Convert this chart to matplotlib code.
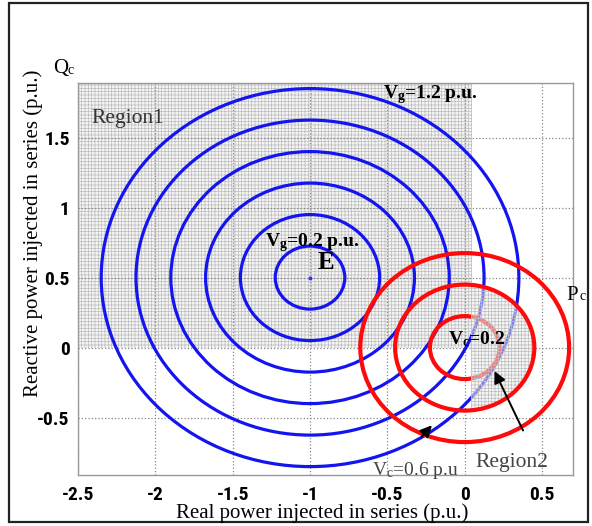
import matplotlib
matplotlib.use("Agg")
import matplotlib.pyplot as plt
from matplotlib import font_manager
from matplotlib.patches import Circle, Rectangle, FancyArrowPatch

plt.rcParams["hatch.linewidth"] = 0.5
plt.rcParams["mathtext.fontset"] = "custom"
plt.rcParams["mathtext.rm"] = "Liberation Serif"
plt.rcParams["mathtext.bf"] = "Liberation Serif:bold"
plt.rcParams["mathtext.it"] = "Liberation Serif:italic"

# Operating circles: grid-side voltage (blue) around point E, converter voltage (red) around origin
grid_center = (-1.0, 0.5)
grid_radii = [0.225, 0.45, 0.675, 0.9, 1.125, 1.35]
conv_center = (0.0, 0.0)
conv_radii = [0.225, 0.45, 0.675]

x_ticks = [-2.5, -2, -1.5, -1, -0.5, 0, 0.5]
x_tick_labels = ["-2.5", "-2", "-1.5", "-1", "-0.5", "0", "0.5"]
y_ticks = [-0.5, 0, 0.5, 1, 1.5]
y_tick_labels = ["-0.5", "0", "0.5", "1", "1.5"]

W, H = 592, 526
fig = plt.figure(figsize=(W / 100, H / 100), dpi=100)


def fx(px):
    return px / W


def fy(py):
    return 1 - py / H


ax = fig.add_axes([fx(78), fy(475), fx(573) - fx(78), fy(83) - fy(475)])
ax.set_xlim(-2.5, 0.7)
ax.set_ylim(-0.91, 1.89)

serif = "Liberation Serif"
installed = {f.name for f in font_manager.fontManager.ttflist}
narrow = [n for n in ["Liberation Sans Narrow", "Roboto Condensed", "DejaVu Sans"]
          if n in installed]
tick_font = dict(family=narrow, weight="bold", stretch="condensed", size=14)

ax.set_xticks(x_ticks)
ax.set_xticklabels(x_tick_labels, **tick_font)
ax.set_yticks(y_ticks)
ax.set_yticklabels(y_tick_labels, **tick_font)
ax.tick_params(axis="both", length=0)
ax.tick_params(axis="x", pad=8)
ax.tick_params(axis="y", pad=6)
for sp in ax.spines.values():
    sp.set_color("#999999")
    sp.set_linewidth(1.0)
ax.grid(True, linestyle=":", color="#888888", linewidth=0.9, zorder=1)
ax.set_axisbelow(True)

# Region 1: upper-left half plane
region1 = Rectangle((-2.5, 0.0), 0.05 + 2.5, 1.89, facecolor="#f4f4f4",
                    edgecolor="#bdbdbd", hatch="+++++", linewidth=0, zorder=0.5)
ax.add_patch(region1)

for r in grid_radii:
    ax.add_patch(Circle(grid_center, r, fill=False, edgecolor="#1414f0",
                        linewidth=2.3, zorder=2))
ax.plot([grid_center[0]], [grid_center[1]], marker="o", markersize=1.8,
        color="#3030ff", zorder=2)

red_z = [3, 5, 3]
for r, z in zip(conv_radii, red_z):
    ax.add_patch(Circle(conv_center, r, fill=False, edgecolor="#ff0a0a",
                        linewidth=3.0, zorder=z))

# Region 2: right part of the middle converter circle
region2 = Circle(conv_center, conv_radii[1], facecolor=(0.93, 0.93, 0.93, 0.5),
                 edgecolor="#bcbcbc", hatch="+++++", linewidth=0, zorder=4)
ax.add_patch(region2)
clip = Rectangle((0.04, -1.0), 1.0, 2.0, transform=ax.transData)
region2.set_clip_path(clip)

# Labels inside the plot
ax.text(-2.41, 1.636, "Region1", family=serif, size=15.5, color="#333333",
        va="center", ha="left", zorder=6)
ax.text(-0.53, 1.81, r"V$_\mathbf{g}$=1.2 p.u.", family=serif, size=14,
        weight="bold", va="center", ha="left", zorder=6)
ax.text(-1.29, 0.75, r"V$_\mathbf{g}$=0.2 p.u.", family=serif, size=14,
        weight="bold", va="center", ha="left", zorder=6)
ax.text(-0.95, 0.61, "E", family=serif, size=18, weight="bold",
        va="center", ha="left", zorder=6)
ax.text(-0.11, 0.06, r"V$_\mathbf{c}$=0.2", family=serif, size=14,
        weight="bold", va="center", ha="left", zorder=6)
ax.text(-0.6, -0.88, r"V$_\mathrm{c}$=0.6 p.u", family=serif, size=14,
        color="#444444", va="center", ha="left", zorder=6)
ax.text(0.07, -0.82, "Region2", family=serif, size=15.5, color="#444444",
        va="center", ha="left", zorder=6)

ax.add_patch(FancyArrowPatch((0.385, -0.61), (0.185, -0.15),
                             arrowstyle="-|>,head_length=7,head_width=3.5",
                             color="black", linewidth=1.4, zorder=7))
ax.add_patch(FancyArrowPatch((-0.29, -0.65), (-0.2, -0.54),
                             arrowstyle="-|>,head_length=7,head_width=3.5",
                             color="black", linewidth=1.4, zorder=7))

# Axis titles and end labels
fig.text(fx(322), fy(513), "Real power injected in series (p.u.)",
         family=serif, size=15, ha="center", va="center")
fig.text(fx(33), fy(233), "Reactive power injected in series (p.u.)",
         family=serif, size=15, ha="center", va="center", rotation=90)
fig.text(fx(53), fy(68), "Q", family=serif, size=15, ha="left", va="center")
fig.text(fx(68), fy(70), "c", family=serif, size=10, ha="left", va="center")
fig.text(fx(566), fy(295), "P", family=serif, size=15, ha="left", va="center")
fig.text(fx(579), fy(297), "c", family=serif, size=10, ha="left", va="center")

# Outer frame
fig.patches.append(Rectangle((fx(9), fy(522)), fx(588) - fx(9), fy(3) - fy(522),
                             transform=fig.transFigure, fill=False,
                             edgecolor="#222222", linewidth=1.6))

fig.savefig("out.png", dpi=100)
